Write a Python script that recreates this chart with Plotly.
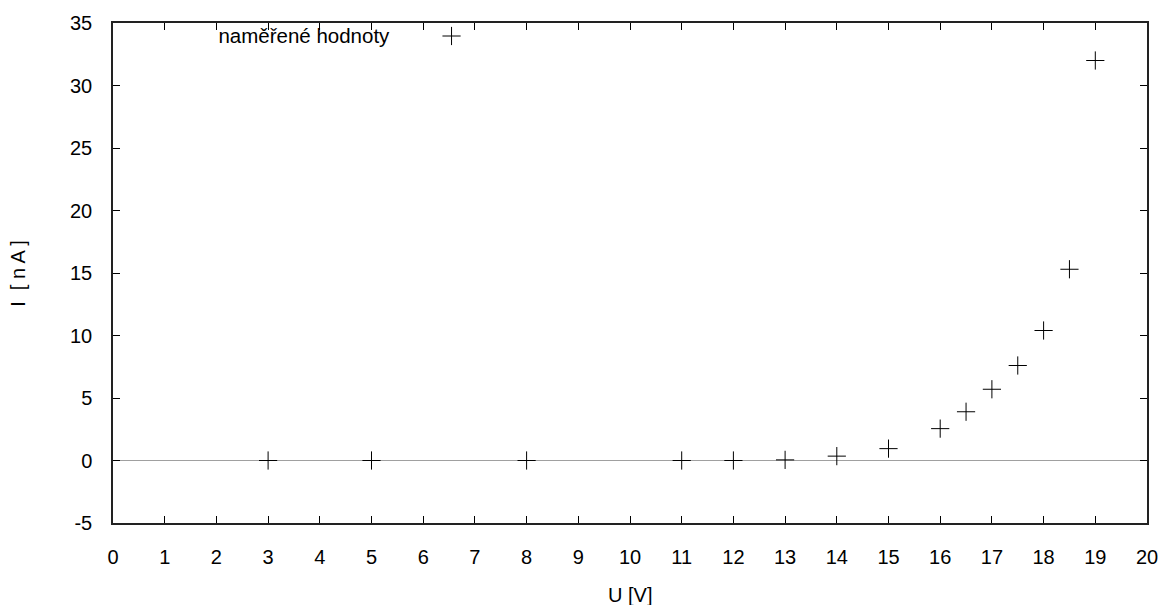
import plotly.graph_objects as go

U = [3, 5, 8, 11, 12, 13, 14, 15, 16, 16.5, 17, 17.5, 18, 18.5, 19]
I = [0.0, 0.0, 0.0, 0.0, 0.0, 0.05, 0.35, 0.95, 2.55, 3.9, 5.7, 7.6, 10.4, 15.3, 32.0]
x_ticks = list(range(0, 21))
y_ticks = [-5, 0, 5, 10, 15, 20, 25, 30, 35]

FONT = "Liberation Sans, Arial, sans-serif"
FS = 20

fig = go.Figure()
fig.add_trace(go.Scatter(
    x=U, y=I, mode="markers", name=" ",
    marker=dict(symbol="cross-thin", size=13, line=dict(color="black", width=1), color="black"),
    showlegend=True,
))

fig.update_layout(
    width=1170, height=605,
    paper_bgcolor="white", plot_bgcolor="white",
    margin=dict(l=113, r=18, t=17, b=82),
    font=dict(family=FONT, size=FS, color="black"),
    showlegend=True,
    legend=dict(
        title=dict(text="naměřené hodnoty\u00a0\u00a0\u00a0\u00a0\u00a0\u00a0", side="left",
                   font=dict(size=20.5)),
        x=0.1, y=1.013, xanchor="left", yanchor="top",
        bgcolor="rgba(0,0,0,0)", borderwidth=0,
        font=dict(size=FS),
    ),
    xaxis=dict(
        range=[0, 20], tickvals=x_ticks, ticktext=[str(v) for v in x_ticks],
        ticks="inside", ticklen=7, tickcolor="black", tickwidth=1,
        showline=True, linecolor="#222222", linewidth=1.5, mirror="ticks",
        showgrid=False, zeroline=False, ticklabelstandoff=15,
    ),
    yaxis=dict(
        range=[-5, 35], tickvals=y_ticks, ticktext=[str(v) for v in y_ticks],
        ticks="inside", ticklen=7, tickcolor="black", tickwidth=1,
        showline=True, linecolor="#222222", linewidth=1.5, mirror="ticks",
        showgrid=False, zeroline=True, zerolinecolor="#a0a0a0", zerolinewidth=1,
        ticklabelstandoff=15,
    ),
    annotations=[
        dict(text="U [V]", xref="paper", yref="paper", x=0.5, y=-0.143,
             xanchor="center", yanchor="middle", showarrow=False, font=dict(size=FS)),
        dict(text="I  [ n A ]", xref="paper", yref="paper", x=-0.092, y=0.5,
             xanchor="center", yanchor="middle", showarrow=False, textangle=-90,
             font=dict(size=FS)),
    ],
)

fig.write_html("out.html", config={"displayModeBar": False},
               post_script="document.body.style.margin='0px';")
